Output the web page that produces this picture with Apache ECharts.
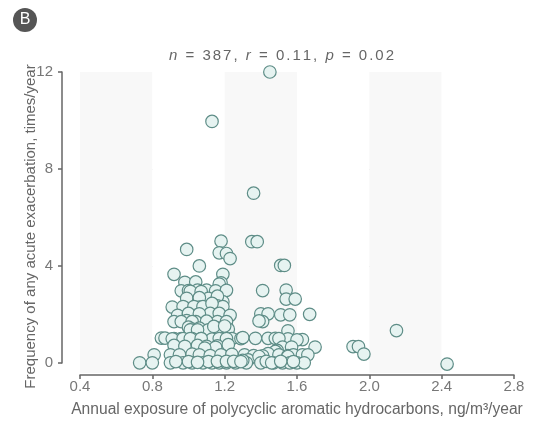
<!DOCTYPE html>
<html>
<head>
<meta charset="utf-8">
<script src="https://cdn.jsdelivr.net/npm/echarts@6/dist/echarts.min.js"></script>
<style>html,body{margin:0;padding:0;background:#fff;}#c{width:534px;height:425px;}</style>
</head>
<body>
<div id="c"></div>
<script>
// Panel label and stats
const panelLabel = 'B';
const statN = 387, statR = 0.11, statP = 0.02;

// Axis ticks
const xTicks = [0.4, 0.8, 1.2, 1.6, 2.0, 2.4, 2.8];
const yTicks = [0, 4, 8, 12];
const xName = 'Annual exposure of polycyclic aromatic hydrocarbons, ng/m\u00B3/year';
const yName = 'Frequency of any acute exacerbation, times/year';

// Annual PAH exposure (x) and exacerbation frequency (y)
const exposure = [
  1.45,1.13,1.36,1.35,1.38,1.18,0.99,1.17,1.21,1.23,1.06,1.51,1.53,0.92,1.19,0.98,1.04,1.18,1.17,
  0.96,1.00,1.05,1.10,1.15,1.21,1.41,1.54,1.01,1.07,
  1.54,1.59,0.99,1.06,1.11,1.16,1.19,1.06,1.16,
  0.91,0.99,1.06,1.12,1.16,1.19,0.97,1.03,1.08,1.13,
  0.94,1.00,1.05,1.12,1.17,1.23,1.40,1.44,1.51,1.56,1.67,1.00,1.06,
  0.92,0.99,1.04,1.16,1.21,1.41,1.39,0.96,1.02,1.10,
  1.00,1.02,1.06,1.11,1.17,1.22,1.01,1.05,1.55,2.15,1.14,1.20,
  0.85,0.87,0.92,0.96,1.02,1.07,1.13,1.19,1.24,1.29,1.30,1.37,1.44,1.48,1.55,1.63,1.60,0.91,0.97,1.01,1.07,1.17,1.21,1.50,
  0.92,0.98,1.05,1.10,1.16,1.22,1.15,1.09,1.52,1.49,1.57,1.70,1.91,1.94,1.48,
  0.81,0.90,0.95,1.02,1.06,1.12,1.18,1.24,1.31,1.36,1.44,1.50,1.55,1.58,1.63,1.66,1.41,1.55,1.97,1.33,1.39,
  0.73,0.80,0.90,0.97,1.02,1.08,1.13,1.17,1.21,1.26,1.32,1.40,1.47,1.52,1.56,1.60,1.64,2.43,1.00,1.11,1.16,1.21,1.25,1.30,1.43,1.46,1.51,1.58,1.29,0.93,1.05
];
const frequency = [
  12.0,9.96,7.0,5.0,5.0,5.02,4.68,4.54,4.51,4.3,4.0,4.02,4.02,3.65,3.65,3.32,3.34,3.3,3.25,
  2.97,2.98,3.0,3.0,2.97,2.99,2.98,3.0,2.95,2.94,
  2.63,2.63,2.66,2.66,2.66,2.66,2.52,2.69,2.75,
  2.3,2.25,2.3,2.32,2.35,2.32,2.32,2.32,2.32,2.45,
  1.96,2.0,1.98,2.04,2.04,1.96,2.02,2.02,1.98,1.98,2.0,2.04,2.02,
  1.7,1.74,1.7,1.7,1.7,1.7,1.73,1.7,1.7,1.72,
  1.47,1.39,1.43,1.36,1.43,1.39,1.36,1.36,1.32,1.33,1.5,1.52,
  1.02,1.02,1.0,1.0,1.0,1.0,0.98,0.99,1.0,1.0,1.04,1.01,1.01,1.01,0.99,0.96,0.95,0.99,1.0,1.0,1.0,1.0,1.0,1.0,
  0.72,0.68,0.72,0.68,0.7,0.75,0.64,0.61,0.65,0.51,0.65,0.65,0.67,0.67,0.47,
  0.33,0.33,0.33,0.36,0.33,0.3,0.33,0.35,0.33,0.3,0.38,0.33,0.3,0.33,0.33,0.33,0.29,0.26,0.36,0.12,0.26,
  0,0,0,0,0,0,0,0,0,0,0,0,0,0,0,0,0,-0.05,0.05,0.05,0.06,0.06,0.06,0.1,0.06,0,0.06,0.05,0.05,0.05,0.02
];

const points = exposure.map((x, i) => [x, frequency[i]]);

const FONT = 'Liberation Sans, Arial, sans-serif';

// Build the stats title with per-character spacing, italic symbols
const titleParts = [['n', true], [' = ' + statN + ', ', false], ['r', true], [' = ' + statR.toFixed(2) + ', ', false], ['p', true], [' = ' + statP.toFixed(2), false]];
let titleText = '';
titleParts.forEach(([s, it]) => { for (const ch of s) titleText += '{' + (it ? 'i' : 'a') + '|' + ch + '}'; });

const chart = echarts.init(document.getElementById('c'), null, {renderer: 'canvas'});
chart.setOption({
  animation: false,
  backgroundColor: '#ffffff',
  graphic: [
    {type: 'circle', shape: {cx: 25, cy: 20, r: 12}, style: {fill: '#555555'}},
    {type: 'text', x: 25, y: 20, style: {text: panelLabel, fill: '#ffffff', font: '16px ' + FONT, align: 'center', verticalAlign: 'middle'}}
  ],
  title: {
    text: titleText,
    left: 163, top: 43,
    textStyle: {
      fontSize: 15, fontWeight: 'normal', color: '#666666', fontFamily: FONT,
      rich: {
        a: {fontSize: 15, color: '#666666', fontFamily: FONT, padding: [0, 1, 0, 1]},
        i: {fontStyle: 'italic', fontSize: 15, color: '#666666', fontFamily: FONT, padding: [0, 1, 0, 1]}
      }
    }
  },
  grid: [
    {left: 80, right: 20, top: 72, bottom: 52},
    {left: 80, right: 20, top: 72, height: 291}
  ],
  xAxis: [
    {
      gridIndex: 0, type: 'value', min: 0.4, max: 2.8, interval: 0.4, offset: 2,
      name: xName, nameLocation: 'middle', nameGap: 27, nameMoveOverlap: false,
      nameTextStyle: {fontSize: 15.6, color: '#666666', fontFamily: FONT},
      axisLine: {show: true, onZero: false, lineStyle: {color: '#666666', width: 1.5}},
      axisTick: {show: true, length: 4, lineStyle: {color: '#666666', width: 1.5}},
      axisLabel: {fontSize: 15, color: '#777777', fontFamily: FONT, margin: 4, formatter: v => v.toFixed(1)},
      splitLine: {show: false},
      splitArea: {show: true, areaStyle: {color: ['#f8f8f8', '#ffffff']}}
    },
    {
      gridIndex: 1, type: 'value', min: 0.4, max: 2.8, show: false
    }
  ],
  yAxis: [
    {
      gridIndex: 0, type: 'value', min: -0.42, max: 12, show: false
    },
    {
      gridIndex: 1, type: 'value', min: 0, max: 12, interval: 4, offset: 18,
      name: yName, nameLocation: 'middle', nameGap: 24, nameMoveOverlap: false,
      nameTextStyle: {fontSize: 15, color: '#666666', fontFamily: FONT, padding: [0, 18, 0, 0]},
      axisLine: {show: true, onZero: false, lineStyle: {color: '#666666', width: 1.5}},
      axisTick: {show: true, length: 4, lineStyle: {color: '#666666', width: 1.5}},
      axisLabel: {fontSize: 15, color: '#777777', fontFamily: FONT, margin: 9},
      splitLine: {show: true, showMinLine: false, showMaxLine: false, lineStyle: {color: '#dddddd', type: [3, 4], width: 1}}
    }
  ],
  series: [{
    type: 'scatter', xAxisIndex: 0, yAxisIndex: 0,
    data: points, symbol: 'circle', symbolSize: 12.5,
    itemStyle: {color: '#e6f3f1', borderColor: '#5e8d87', borderWidth: 1.2, opacity: 1},
    z: 5
  }]
});
</script>
</body>
</html>
